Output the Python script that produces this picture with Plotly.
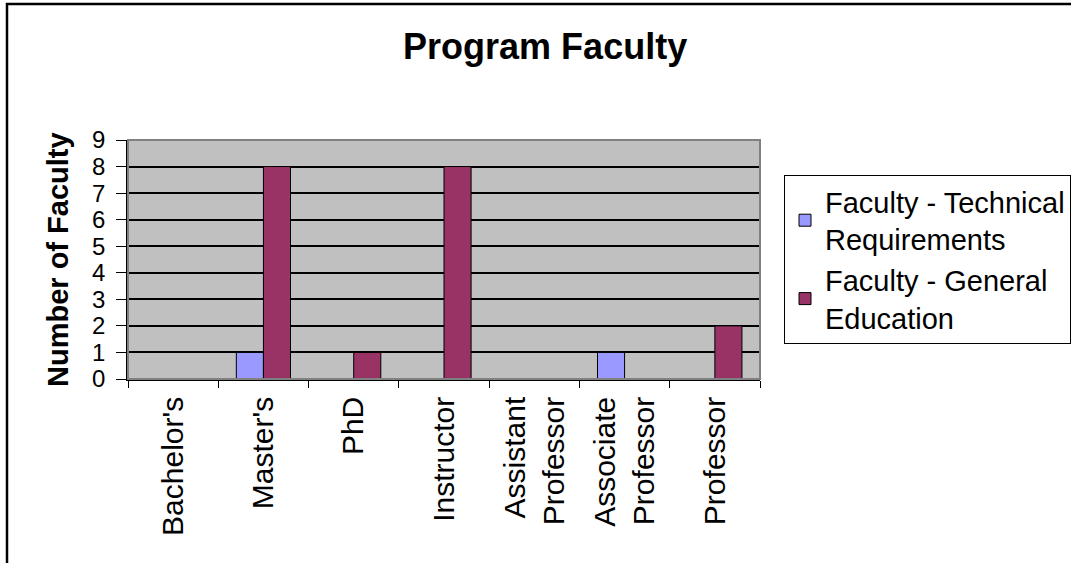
import plotly.graph_objects as go

categories = ["Bachelor's", "Master's", "PhD", "Instructor",
              "Assistant<br>Professor", "Associate<br>Professor", "Professor"]
technical = [0, 1, 0, 0, 0, 1, 0]
general_ed = [0, 8, 1, 8, 0, 0, 2]
y_ticks = list(range(0, 10))

FONT = dict(family="Arial, Liberation Sans, sans-serif", color="black")

fig = go.Figure()
fig.add_trace(go.Bar(
    x=categories, y=technical, name="Faculty - Technical<br>Requirements",
    marker=dict(color="#9999FF", line=dict(color="black", width=1)),
))
fig.add_trace(go.Bar(
    x=categories, y=general_ed, name="Faculty - General<br>Education",
    marker=dict(color="#993366", line=dict(color="black", width=1)),
))

# plot area in page px: x 128-760, y 140-379
fig.update_layout(
    width=1071, height=563,
    barmode="group", bargap=0.4, bargroupgap=0,
    paper_bgcolor="white", plot_bgcolor="#C0C0C0",
    font=dict(size=24, **FONT),
    margin=dict(l=128, r=311, t=140, b=184, autoexpand=False),
    title=dict(text="<b>Program Faculty</b>", font=dict(size=36, **FONT),
               xref="container", x=0.509, y=1 - 46 / 563, xanchor="center", yanchor="middle"),
    legend=dict(xref="container", yref="container", x=784 / 1071, y=1 - 175 / 563,
                xanchor="left", yanchor="top",
                bgcolor="white", bordercolor="black", borderwidth=1,
                font=dict(size=29, **FONT), tracegroupgap=8),
    showlegend=True,
)
fig.update_yaxes(
    range=[0, 9], tickvals=y_ticks, showgrid=True, gridcolor="black", gridwidth=1.5,
    showline=True, linecolor="black", linewidth=1.5, ticklabelstandoff=6,
    ticks="outside", ticklen=10, tickcolor="black", zeroline=False,
    tickfont=dict(size=24, **FONT),
)
fig.update_xaxes(
    showline=True, linecolor="black", linewidth=1.5, tickangle=-90,
    ticks="outside", ticklen=7, tickcolor="black", tickson="boundaries",
    ticklabelstandoff=4, tickfont=dict(size=30, **FONT),
)

# y-axis title
fig.add_annotation(text="<b>Number of Faculty</b>", textangle=-90,
                   xref="paper", yref="paper", x=(58 - 128) / 632, y=(379 - 260) / 239,
                   xanchor="center", yanchor="middle",
                   showarrow=False, font=dict(size=29, **FONT))
# plot area border (top/right grey)
fig.add_shape(type="rect", xref="paper", yref="paper", x0=0, y0=0, x1=1, y1=1,
              line=dict(color="#808080", width=2))
# outer chart frame
fig.add_shape(type="rect", xref="paper", yref="paper",
              x0=(7 - 128) / 632, y0=-1.0, x1=1.6, y1=(379 - 4) / 239,
              line=dict(color="black", width=2.5))

fig.write_html("out.html", config={"displayModeBar": False},
               post_script="document.body.style.margin='0px';")
